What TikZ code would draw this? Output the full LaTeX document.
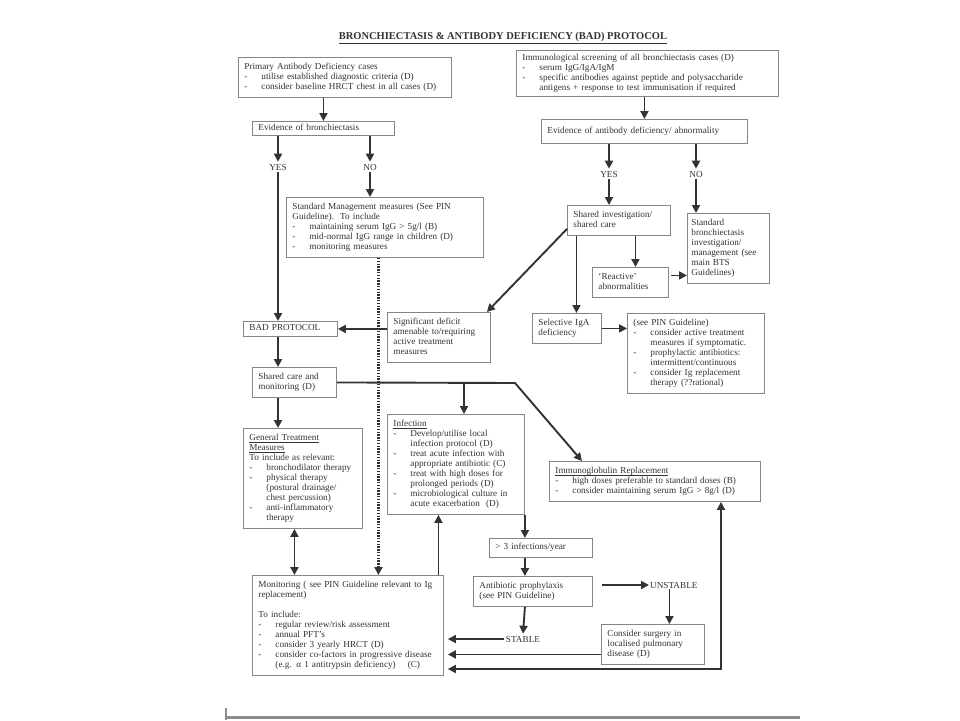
\documentclass[tikz,border=0pt]{standalone}
\usepackage{fontspec}
\setmainfont{Liberation Serif}
\usetikzlibrary{arrows.meta}
\definecolor{ink}{HTML}{333333}
\definecolor{frame}{HTML}{858585}
\newcommand\bodyfont{\fontsize{9.2}{10}\selectfont}
\newcommand\itemdash[1]{\makebox[17pt][l]{-}#1}
\newcommand\itemcont[1]{\hspace*{17pt}#1}
\newcommand\headline[1]{\underline{\smash{#1}}}

\tikzset{
  box/.style={draw=frame, line width=0.9pt, anchor=north west, align=left,
    text=ink, font=\bodyfont, inner xsep=6pt, inner ysep=5pt, text width=#1,
    execute at begin node=\strut, execute at end node=\strut},
  lbl/.style={text=ink, font=\bodyfont, inner sep=2pt},
  arr/.style={draw=ink, line width=1.9pt, -{Triangle[length=8pt,width=8pt]}},
  dblarr/.style={draw=ink, line width=1.9pt, {Triangle[length=8pt,width=8pt]}-{Triangle[length=8pt,width=8pt]}},
  dots/.style={draw=ink, line width=2.8pt, dash pattern=on 1.4pt off 1.4pt, -{Triangle[length=8pt,width=8pt]}}
}

\begin{document}
\begin{tikzpicture}[x=1pt,y=-1pt]
	\fill[white] (0,0) rectangle (960,720);
	\useasboundingbox (0,0) rectangle (960,720);
	% title
	\node[text=ink, font=\fontsize{10.5}{12}\selectfont\bfseries] (title) at (503,38) {\underline{BRONCHIECTASIS \& ANTIBODY DEFICIENCY (BAD) PROTOCOL}};
	% top row
	\node[box=201pt] (pad) at (238,57) {Primary Antibody Deficiency cases\\
		\itemdash{utilise established diagnostic criteria (D)}\\
		\itemdash{consider baseline HRCT chest in all cases (D)}};
	\node[box=250pt, inner ysep=3pt] (scr) at (516,50) {Immunological screening of all bronchiectasis cases (D)\\
		\itemdash{serum IgG/IgA/IgM}\\
		\itemdash{specific antibodies against peptide and polysaccharide}\\
		\itemcont{antigens + response to test immunisation if required}};
	\node[box=130pt, inner ysep=2pt] (evb) at (252,121) {Evidence of bronchiectasis};
	\node[box=194pt, inner ysep=7pt] (eva) at (541,119) {Evidence of antibody deficiency/ abnormality};
	% yes / no
	\node[lbl] (yesl) at (278,167) {YES};
	\node[lbl] (nol) at (370,167) {NO};
	\node[lbl] (yesr) at (609,174) {YES};
	\node[lbl] (nor) at (696,174) {NO};
	% middle
	\node[box=185pt] (std) at (286,197) {Standard Management measures (See PIN\\
		Guideline).\ \ To include\\
		\itemdash{maintaining serum IgG > 5g/l (B)}\\
		\itemdash{mid-normal IgG range in children (D)}\\
		\itemdash{monitoring measures}};
	\node[box=91pt] (sinv) at (567,205) {Shared investigation/\\ shared care};
	\node[box=74pt, inner xsep=4pt] (sbr) at (687,213) {Standard\\ bronchiectasis\\ investigation/\\ management (see\\ main BTS\\ Guidelines)};
	\node[box=64pt] (reac) at (592,267) {`Reactive'\\ abnormalities};
	\node[box=57pt] (sel) at (532,313) {Selective IgA\\ deficiency};
	\node[box=125pt] (pin) at (627,313) {(see PIN Guideline)\\
		\itemdash{consider active treatment}\\
		\itemcont{measures if symptomatic.}\\
		\itemdash{prophylactic antibiotics:}\\
		\itemcont{intermittent/continuous}\\
		\itemdash{consider Ig replacement}\\
		\itemcont{therapy (??rational)}};
	\node[box=91pt] (sig) at (387,312) {Significant deficit\\ amenable to/requiring\\ active treatment\\ measures};
	\node[box=82pt, inner ysep=2.5pt] (bad) at (243,321) {BAD PROTOCOL};
	\node[box=72pt] (scm) at (252,367) {Shared care and\\ monitoring (D)};
	% lower
	\node[box=107pt] (gen) at (243,428) {\headline{General Treatment}\\
		\headline{Measures}\\
		To include as relevant:\\
		\itemdash{bronchodilator therapy}\\
		\itemdash{physical therapy}\\
		\itemcont{(postural drainage/}\\
		\itemcont{chest percussion)}\\
		\itemdash{anti-inflammatory}\\
		\itemcont{therapy}};
	\node[box=125pt] (inf) at (387,414) {\headline{Infection}\\
		\itemdash{Develop/utilise local}\\
		\itemcont{infection protocol (D)}\\
		\itemdash{treat acute infection with}\\
		\itemcont{appropriate antibiotic (C)}\\
		\itemdash{treat with high doses for}\\
		\itemcont{prolonged periods (D)}\\
		\itemdash{microbiological culture in}\\
		\itemcont{acute exacerbation\ \ (D)}};
	\node[box=199pt] (ig) at (549,461) {\headline{Immunoglobulin Replacement}\\
		\itemdash{high doses preferable to standard doses (B)}\\
		\itemdash{consider maintaining serum IgG > 8g/l (D)}};
	\node[box=91pt, inner ysep=4.5pt] (thr) at (489,538) {> 3 infections/year};
	\node[box=107pt] (abx) at (473,576) {Antibiotic prophylaxis\\ (see PIN Guideline)};
	\node[lbl, anchor=west, inner sep=1pt] (unst) at (649,585) {UNSTABLE};
	\node[lbl] (stab) at (523,639) {STABLE};
	\node[box=91pt] (surg) at (601,624) {Consider surgery in\\ localised pulmonary\\ disease (D)};
	\node[box=179pt] (mon) at (252,575) {Monitoring ( see PIN Guideline relevant to Ig\\
		replacement)\\[10pt]
		To include:\\
		\itemdash{regular review/risk assessment}\\
		\itemdash{annual PFT's}\\
		\itemdash{consider 3 yearly HRCT (D)}\\
		\itemdash{consider co-factors in progressive disease}\\
		\itemcont{(e.g. α 1 antitrypsin deficiency)\hspace{12pt}(C)}};
	% connectors, top half
	\draw[arr] (pad.south -| evb.north) -- (evb.north);
	\draw[arr] (scr.south -| eva.north) -- (eva.north);
	\draw[arr] (yesl.north |- evb.south) -- (yesl.north);
	\draw[arr] (nol.north |- evb.south) -- (nol.north);
	\draw[arr] (yesl.south) -- (yesl.south |- bad.north);
	\draw[arr] (nol.south) -- (nol.south |- std.north);
	\draw[arr] (yesr.north |- eva.south) -- (yesr.north);
	\draw[arr] (nor.north |- eva.south) -- (nor.north);
	\draw[arr] (yesr.south) -- (yesr.south |- sinv.north);
	\draw[arr] (nor.south) -- (nor.south |- sbr.north);
	\draw[arr] ([xshift=5pt]reac.north |- sinv.south) -- ([xshift=5pt]reac.north);
	\draw[arr] ([xshift=9.5pt]sel.north |- sinv.south) -- ([xshift=9.5pt]sel.north);
	\draw[arr] ([xshift=2pt,yshift=7pt]reac.east) -- ([yshift=7pt]reac.east -| sbr.west);
	\draw[arr] (sel.east) -- (sel.east -| pin.west);
	\draw[arr] ([yshift=7pt]sinv.south west) -- ([xshift=-4pt]sig.north east);
	\draw[arr] (sig.west |- bad.east) -- (bad.east);
	\draw[dots] ([xshift=-6.5pt]std.south) -- ([xshift=-6.5pt]std.south |- mon.north);
	% connectors, bottom half
	\draw[arr] (yesl |- bad.south) -- (yesl |- scm.north);
	\draw[arr] (yesl |- scm.south) -- (yesl |- gen.north);
	\coordinate (bend) at (515,383);
	\coordinate (infdrop) at (464,383);
	\draw[arr] (scm.east) -- (bend) -- ([xshift=33pt]ig.north west);
	\draw[arr] (infdrop) -- (infdrop |- inf.north);
	\draw[dblarr] ([xshift=-8.5pt]gen.south) -- ([xshift=-8.5pt]gen.south |- mon.north);
	\draw[arr] ([xshift=-17.5pt]inf.south |- mon.north) -- ([xshift=-17.5pt]inf.south);
	\draw[arr] (inf.south east) -- (inf.south east |- thr.north);
	\draw[arr] (inf.south east |- thr.south) -- (inf.south east |- abx.north);
	\draw[arr] (inf.south east |- abx.south) -- (stab.north);
	\draw[arr] ([xshift=9pt]abx.east |- unst.west) -- (unst.west);
	\draw[arr] ([xshift=16.5pt]surg.north |- unst.south) -- ([xshift=16.5pt]surg.north);
	\draw[arr, shorten >=4pt] (stab.west) -- (stab.west -| mon.east);
	\draw[arr, shorten >=4pt] ([yshift=-10pt]surg.west) -- ([yshift=-10pt]surg.west -| mon.east);
	\coordinate (loopc) at (721,669);
	\draw[dblarr, shorten <=4pt] (loopc -| mon.east) -- (loopc) -- (loopc |- ig.south);
	% page edge
	\draw[line width=2.5pt, black!45] (226,717.5) -- (800,717.5);
	\draw[line width=2pt, black!45] (226,708) -- (226,720);
\end{tikzpicture}
\end{document}
